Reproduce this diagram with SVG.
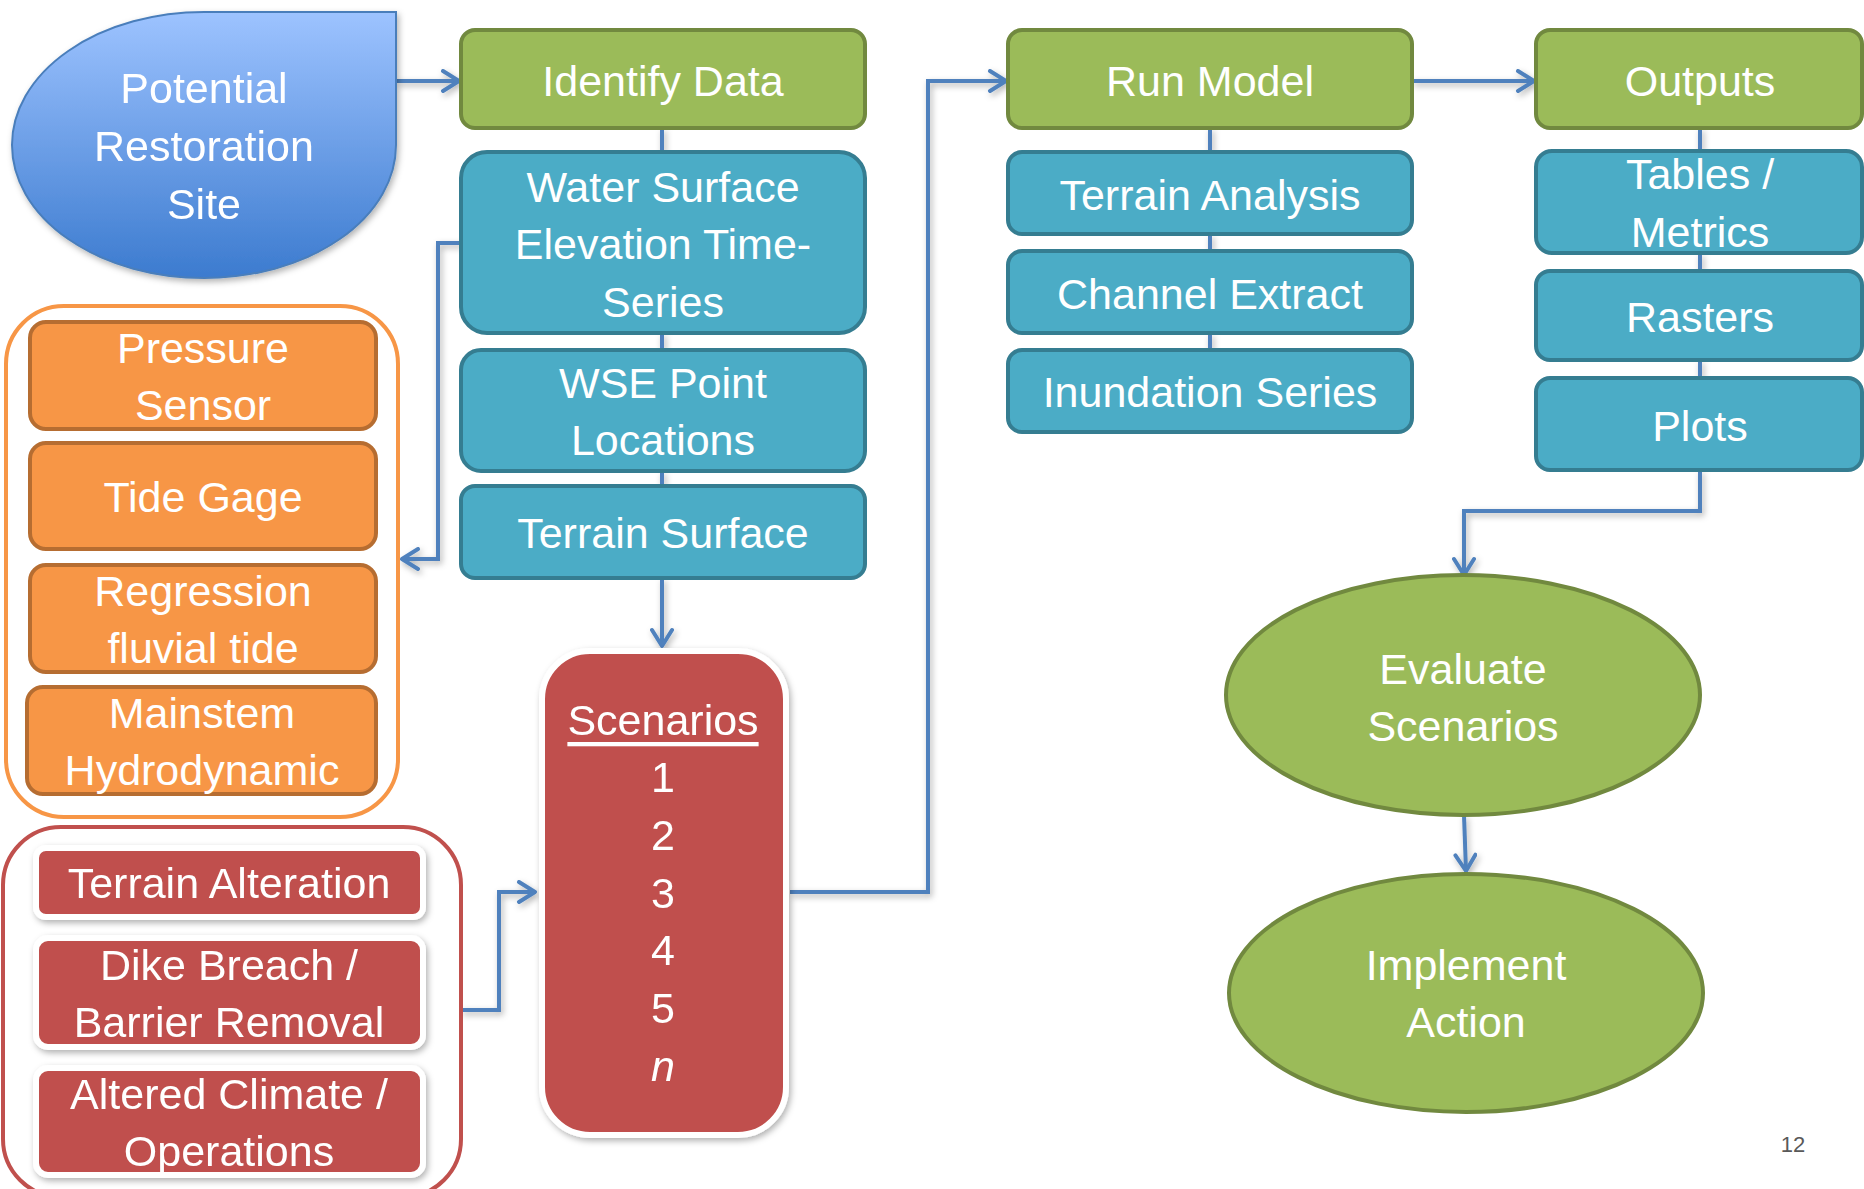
<svg xmlns="http://www.w3.org/2000/svg" width="1864" height="1189" viewBox="0 0 1864 1189">
<defs>
<linearGradient id="gBlue" x1="0" y1="0" x2="0" y2="1">
<stop offset="0" stop-color="#9DC3FF"/>
<stop offset="1" stop-color="#3C7BCF"/>
</linearGradient>
<filter id="sh" x="-10%" y="-10%" width="130%" height="130%">
<feDropShadow dx="2" dy="3" stdDeviation="3" flood-color="#000" flood-opacity="0.3"/>
</filter>
<marker id="arr" viewBox="0 0 12 12" refX="10" refY="6" markerWidth="6" markerHeight="6" markerUnits="strokeWidth" orient="auto">
<path d="M2,1 L10,6 L2,11" fill="none" stroke="#4F81BD" stroke-width="2" stroke-linecap="round" stroke-linejoin="round"/>
</marker>
</defs>
<style>
text{font-family:"Liberation Sans",Arial,sans-serif;font-size:43px;fill:#fff;text-anchor:middle;dominant-baseline:central}
.g{fill:#9BBB59;stroke:#71893F;stroke-width:4}
.b{fill:#4BACC6;stroke:#357D91;stroke-width:4}
.o{fill:#F79646;stroke:#B66D31;stroke-width:4}
.r{fill:#C0504D;stroke:#fff;stroke-width:6}
.c{fill:none;stroke:#4F81BD;stroke-width:4}
.ca{fill:none;stroke:#4F81BD;stroke-width:4;marker-end:url(#arr)}
</style>
<rect width="1864" height="1189" fill="#fff"/>

<g id="connectors" filter="url(#sh)">
<path class="c" d="M662,128 V152 M662,333 V350 M662,471 V486"/>
<path class="c" d="M1210,128 V152 M1210,234 V251 M1210,333 V350"/>
<path class="c" d="M1700,128 V151 M1700,253 V271 M1700,360 V378"/>
<path class="ca" d="M396,81 H459"/>
<path class="ca" d="M1412,81 H1534"/>
<path class="ca" d="M662,578 V646"/>
<path class="ca" d="M461,243 H438 V559 H402"/>
<path class="ca" d="M461,1010 H499 V892 H535"/>
<path class="ca" d="M790,892 H928 V81 H1006"/>
<path class="ca" d="M1700,470 V511 H1464 V575"/>
<path class="ca" d="M1464,815 L1466,871"/>
</g>

<g id="site" filter="url(#sh)">
<path d="M204,12 H396 V145 A192 133 0 1 1 204,12 Z" fill="url(#gBlue)" stroke="#4A7EBB" stroke-width="2"/>
<text x="204" y="88">Potential</text>
<text x="204" y="146">Restoration</text>
<text x="204" y="204">Site</text>
</g>

<g id="identify-data"><rect class="g" x="461" y="30" width="404" height="98" rx="14"/><text x="663" y="81">Identify Data</text></g>
<g id="wse-series"><rect class="b" x="461" y="152" width="404" height="181" rx="26"/><text x="663" y="187">Water Surface</text><text x="663" y="244">Elevation Time-</text><text x="663" y="302">Series</text></g>
<g id="wse-points"><rect class="b" x="461" y="350" width="404" height="121" rx="20"/><text x="663" y="383">WSE Point</text><text x="663" y="440">Locations</text></g>
<g id="terrain-surface"><rect class="b" x="461" y="486" width="404" height="92" rx="14"/><text x="663" y="533">Terrain Surface</text></g>

<g id="run-model"><rect class="g" x="1008" y="30" width="404" height="98" rx="14"/><text x="1210" y="81">Run Model</text></g>
<g id="terrain-analysis"><rect class="b" x="1008" y="152" width="404" height="82" rx="14"/><text x="1210" y="195">Terrain Analysis</text></g>
<g id="channel-extract"><rect class="b" x="1008" y="251" width="404" height="82" rx="14"/><text x="1210" y="294">Channel Extract</text></g>
<g id="inundation-series"><rect class="b" x="1008" y="350" width="404" height="82" rx="14"/><text x="1210" y="392">Inundation Series</text></g>

<g id="outputs"><rect class="g" x="1536" y="30" width="326" height="98" rx="14"/><text x="1700" y="81">Outputs</text></g>
<g id="tables-metrics"><rect class="b" x="1536" y="151" width="326" height="102" rx="16"/><text x="1700" y="174">Tables /</text><text x="1700" y="232">Metrics</text></g>
<g id="rasters"><rect class="b" x="1536" y="271" width="326" height="89" rx="14"/><text x="1700" y="317">Rasters</text></g>
<g id="plots"><rect class="b" x="1536" y="378" width="326" height="92" rx="14"/><text x="1700" y="426">Plots</text></g>

<g id="evaluate-scenarios"><ellipse class="g" cx="1463" cy="695" rx="237" ry="120"/><text x="1463" y="669">Evaluate</text><text x="1463" y="726">Scenarios</text></g>
<g id="implement-action"><ellipse class="g" cx="1466" cy="993" rx="237" ry="119"/><text x="1466" y="965">Implement</text><text x="1466" y="1022">Action</text></g>

<g id="data-sources">
<rect x="6" y="306" width="392" height="511" rx="58" fill="#fff" stroke="#F79646" stroke-width="4"/>
<g id="pressure-sensor"><rect class="o" x="30" y="322" width="346" height="107" rx="16"/><text x="203" y="348">Pressure</text><text x="203" y="405">Sensor</text></g>
<g id="tide-gage"><rect class="o" x="30" y="443" width="346" height="106" rx="16"/><text x="203" y="497">Tide Gage</text></g>
<g id="regression"><rect class="o" x="30" y="565" width="346" height="107" rx="16"/><text x="203" y="591">Regression</text><text x="203" y="648">fluvial tide</text></g>
<g id="mainstem"><rect class="o" x="27" y="687" width="349" height="107" rx="16"/><text x="202" y="713">Mainstem</text><text x="202" y="770">Hydrodynamic</text></g>
</g>

<g id="alterations">
<rect x="3" y="827" width="458" height="370" rx="58" fill="#fff" stroke="#C0504D" stroke-width="4"/>
<g id="terrain-alteration" filter="url(#sh)"><rect class="r" x="36" y="848" width="387" height="69" rx="10"/><text x="229" y="883">Terrain Alteration</text></g>
<g id="dike-breach" filter="url(#sh)"><rect class="r" x="36" y="938" width="387" height="109" rx="12"/><text x="229" y="965">Dike Breach /</text><text x="229" y="1022">Barrier Removal</text></g>
<g id="altered-climate" filter="url(#sh)"><rect class="r" x="36" y="1068" width="387" height="107" rx="12"/><text x="229" y="1094">Altered Climate /</text><text x="229" y="1151">Operations</text></g>
</g>

<g id="scenarios" filter="url(#sh)">
<rect class="r" x="542" y="651" width="244" height="484" rx="48"/>
<text x="663" y="720" text-decoration="underline">Scenarios</text>
<text x="663" y="777">1</text>
<text x="663" y="835">2</text>
<text x="663" y="893">3</text>
<text x="663" y="950">4</text>
<text x="663" y="1008">5</text>
<text x="663" y="1066" font-style="italic">n</text>
</g>

<text x="1793" y="1144" style="font-size:22px;fill:#595959">12</text>
</svg>
